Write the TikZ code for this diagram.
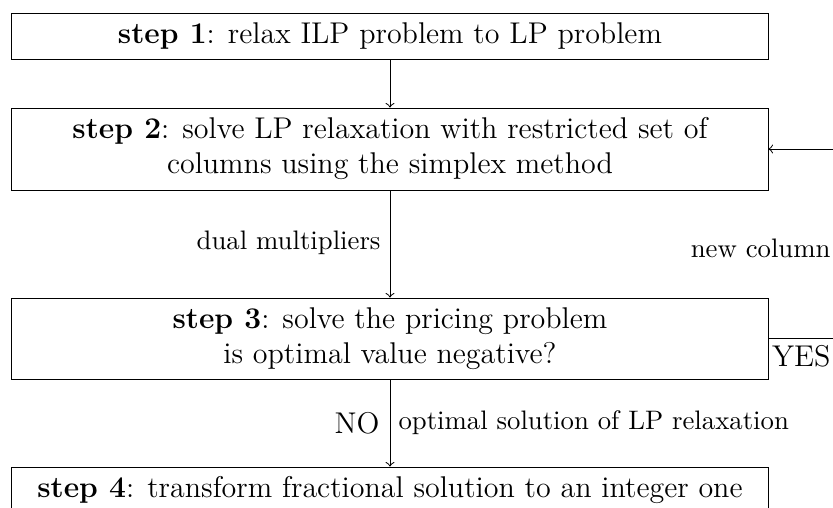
\documentclass[tikz,border=0pt]{standalone}
\usetikzlibrary{calc}
\begin{document}
\begin{tikzpicture}[x=0.4pt,y=-0.4pt,
  box/.style={draw, thin, minimum width=302.4pt, align=center, font=\large, inner sep=0pt},
  lab/.style={inner sep=0pt, font=\fontsize{10.7}{13}\selectfont},
  conn/.style={->, thin}]
\useasboundingbox (0,0) rectangle (833,507);
\node[box, minimum height=18.4pt] (s1) at (390,36) {\textbf{step 1}: relax ILP problem to LP problem};
\node[box, minimum height=32.8pt] (s2) at (390,149) {\textbf{step 2}: solve LP relaxation with restricted set of\\ columns using the simplex method};
\node[box, minimum height=32.4pt] (s3) at (390,338.5) {\textbf{step 3}: solve the pricing problem\\ is optimal value negative?};
\node[box, minimum height=18.4pt] (s4) at (390,490) {\textbf{step 4}: transform fractional solution to an integer one};
\draw[conn] (s1) -- (s2);
\draw[conn] (s2) -- (s3);
\draw[conn] (s3) -- (s4);
\draw[conn] (s3.east) -- ++(92,0) coordinate (c) |- (s2.east);
\node[lab, anchor=east] (dm) at (381,243) {dual multipliers};
\node[lab, anchor=east] (nc) at (831,248) {new column};
\node[lab, anchor=north east, font=\large] (yes) at (831,345) {YES};
\node[lab, anchor=east, font=\large] (no) at (380,423) {NO};
\node[lab, anchor=west] (os) at (398,423) {optimal solution of LP relaxation};
\end{tikzpicture}
\end{document}
